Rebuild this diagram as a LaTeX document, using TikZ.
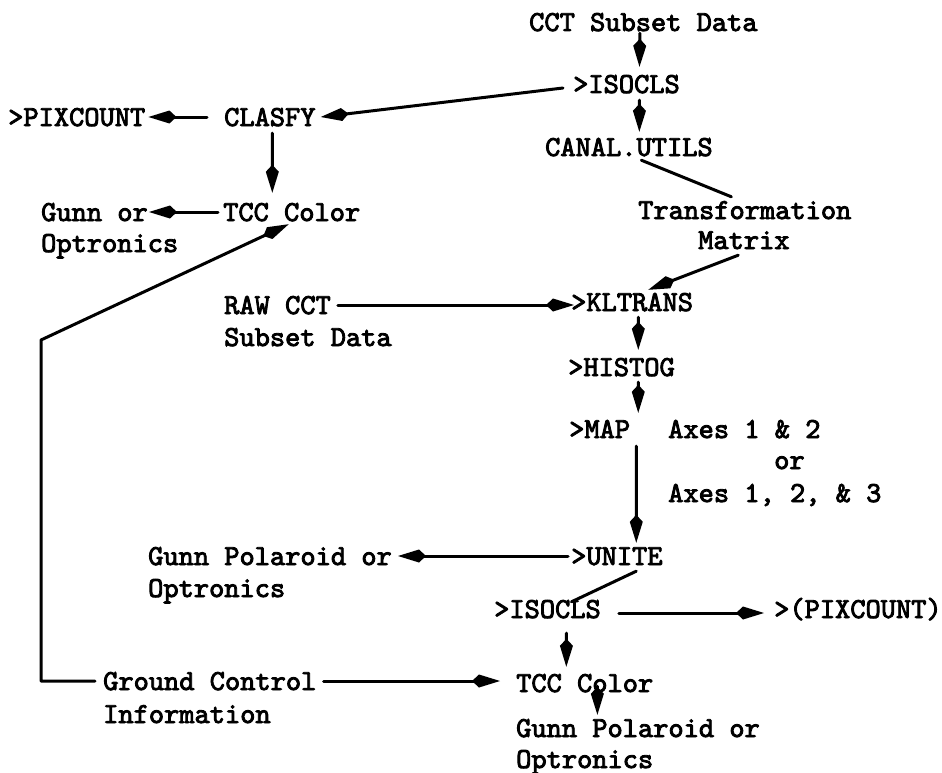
\documentclass[tikz,border=0pt]{standalone}
\usepackage{fontspec}
\usetikzlibrary{arrows.meta,calc}
\newfontfamily\twface[FakeBold=3]{lmmono10-regular.otf}
\newcommand\twfont{\fontsize{29bp}{34bp}\selectfont\twface}
\begin{document}
\begin{tikzpicture}[x=1bp,y=-1bp,
  lbl/.style={inner sep=0pt, anchor=west, text height=18bp, text depth=0pt, font=\twfont},
  link/.style={line width=3bp, line cap=round, line join=round},
  arr/.style={link, -{Kite[length=28bp,width=13bp,inset=7bp]}}]
\useasboundingbox (0,0) rectangle (942,773);
% right column
\node[lbl] (cct)   at (529,22)  {CCT Subset Data};
\node[lbl] (iso1)  at (573,84)  {>ISOCLS};
\node[lbl] (canal) at (545,147) {CANAL.UTILS};
\node[lbl] (trans) at (638,210) {Transformation};
\node[lbl] (transb) at (698,240) {Matrix};
\node[lbl] (klt)   at (571,302) {>KLTRANS};
\node[lbl] (hist)  at (568,367) {>HISTOG};
\node[lbl] (map)   at (569,429) {>MAP};
\node[lbl] (axes)  at (668,429) {Axes 1 \& 2};
\node[lbl] (axesor) at (774,460) {or};
\node[lbl] (axesb) at (668,493) {Axes 1, 2, \& 3};
\node[lbl] (unite) at (571,556) {>UNITE};
\node[lbl] (iso2)  at (494,609) {>ISOCLS};
\node[lbl] (pix2)  at (774,609) {>(PIXCOUNT)};
\node[lbl] (tcc2)  at (516,683) {TCC Color};
\node[lbl] (gunn2) at (516,728) {Gunn Polaroid or};
\node[lbl] (gunn2b) at (516,759) {Optronics};
% left column
\node[lbl] (pix1)  at (8,117)   {>PIXCOUNT};
\node[lbl] (clasfy) at (224,117) {CLASFY};
\node[lbl] (tcc1)  at (223,212) {TCC Color};
\node[lbl] (gunn1) at (41,212)  {Gunn or};
\node[lbl] (gunn1b) at (41,243) {Optronics};
\node[lbl] (raw)   at (224,305) {RAW CCT};
\node[lbl] (rawb)  at (224,337) {Subset Data};
\node[lbl] (gunn3) at (148,556) {Gunn Polaroid or};
\node[lbl] (gunn3b) at (148,588) {Optronics};
\node[lbl] (ground) at (103,681) {Ground Control};
\node[lbl] (groundb) at (103,714) {Information};
\coordinate (bend) at (41,340);
% connectors
\draw[arr] ($(cct.south)+(-3.5,2)$) -- ($(iso1.north)+(13,-8)$);
\draw[arr] ($(iso1.south)+(13,7)$) -- ($(canal.north)+(10.4,-6)$);
\draw[link] ($(canal.south)+(12.4,4)$) -- ($(trans.north)+(-13.4,-4)$);
\draw[arr] ($(transb.south)+(-5.6,6)$) -- ($(klt.north)+(16.2,-3)$);
\draw[arr] ($(klt.south)+(6.2,6)$) -- ($(hist.north)+(16.8,-8)$);
\draw[arr] ($(hist.south)+(16.8,6)$) -- ($(map.north)+(38.6,-7)$);
\draw[arr] ($(map.south)+(36.6,8)$) -- ($(unite.north)+(19.4,-4)$);
\draw[arr] ($(iso1.west)+(-10,4)$) -- ($(clasfy.east)+(5,0)$);
\draw[arr] ($(clasfy.west)+(-17,0)$) -- ($(pix1.east)+(3,0)$);
\draw[arr] ($(clasfy.south)+(2.4,7)$) -- ($(tcc1.north)+(-19.4,-10)$);
\draw[arr] ($(tcc1.west)+(-5,0)$) -- ($(gunn1.east)+(1,0)$);
\draw[arr] ($(ground.west)+(-8,0)$) -| (bend) -- ($(tcc1.south)+(-3,3)$);
\draw[arr] ($(raw.east)+(7,0)$) -- ($(raw.east -| klt.west)+(3,0)$);
\draw[arr] ($(unite.west)+(-3,0)$) -- ($(gunn3.east)+(6,0)$);
\draw[link] ($(unite.south)+(19.4,6)$) -- ($(iso2.north)+(24,2)$);
\draw[arr] ($(iso2.east)+(18,4)$) -- ($(pix2.west)+(-10,4)$);
\draw[arr] ($(iso2.south)+(19,15)$) -- ($(tcc2.north)+(-18.4,-7)$);
\draw[arr] ($(ground.east)+(7,0)$) -- ($(ground.east -| tcc2.west)+(-16,0)$);
\draw[arr] ($(tcc2.south)+(12.6,-6)$) -- ($(gunn2.north)+(-40.6,-4)$);
\end{tikzpicture}
\end{document}
